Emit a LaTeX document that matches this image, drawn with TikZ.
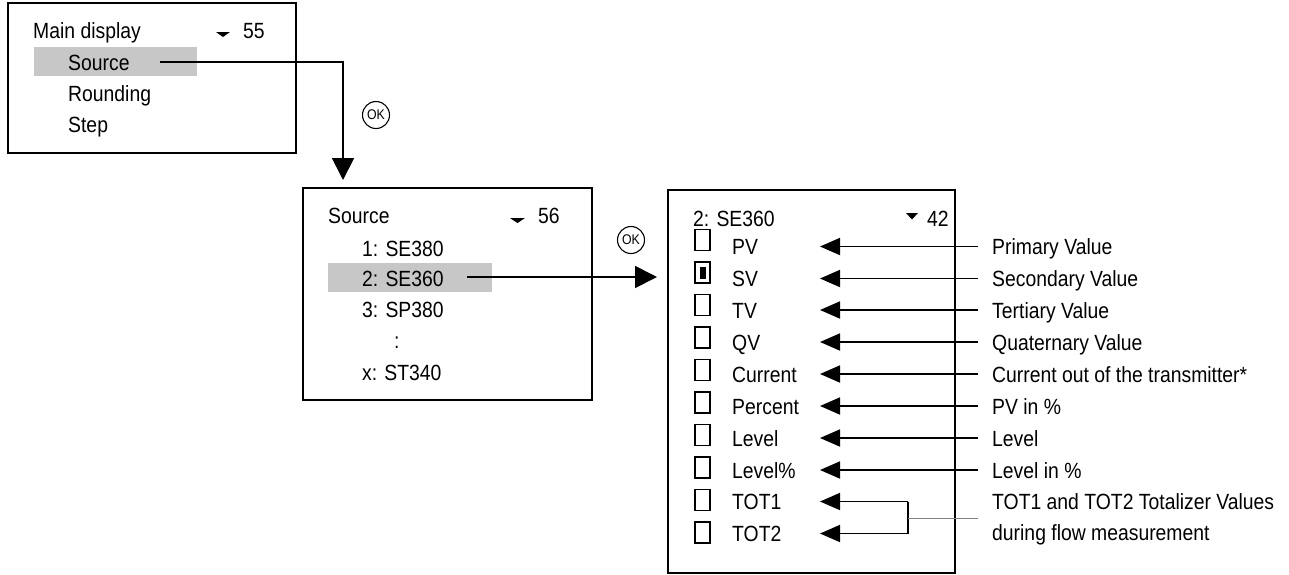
\documentclass[tikz,border=0pt]{standalone}
\usepackage{fontspec}
\setmainfont{Liberation Sans}[FakeStretch=0.88]
\usetikzlibrary{arrows.meta, positioning, calc}

\tikzset{
  menubox/.style={draw, line width=2.4pt, inner sep=0pt},
  txt/.style={anchor=west, inner sep=0pt, text height=16pt, text depth=0pt, font=\fontsize{22}{26}\selectfont},
  hl/.style={fill=black!22, inner sep=0pt},
  chk/.style={draw, line width=1.3pt, minimum width=15pt, minimum height=21pt, inner sep=0pt},
  okbtn/.style={circle, draw, line width=1.1pt, minimum size=27pt, inner sep=0pt, font=\fontsize{14}{14}\selectfont},
  bigarr/.style={line width=1.8pt, -{Triangle[length=22pt, width=22pt]}},
  arr/.style={line width=1.8pt, -{Triangle[length=20pt, width=17pt]}},
  lead/.style={line width=1.8pt}
}

\begin{document}
\begin{tikzpicture}[x=1pt, y=-1pt]
            \useasboundingbox (0,0) rectangle (1289,574);
            % first menu
            \node[menubox, minimum width=288pt, minimum height=150pt] (main) at (152,78) {};
            \node[hl, minimum width=163pt, minimum height=29pt] (hlA) at (115.5,61.5) {};
            \node[txt] (mA) at (33,30.5) {Main display};
            \fill (216,32) -- (230,32) -- (223,37) -- cycle;
            \node[txt] (nA) at (243,30.5) {55};
            \node[txt] (srcA) at (68,62) {Source};
            \node[txt] (rndA) at (68,93) {Rounding};
            \node[txt] (stpA) at (68,124.5) {Step};
            % source menu
            \node[menubox, minimum width=289pt, minimum height=212pt] (src) at (447.5,294) {};
            \node[hl, minimum width=164pt, minimum height=29pt] (hlB) at (410,277.5) {};
            \node[txt] (mB) at (328,215.5) {Source};
            \fill (510,218) -- (525,218) -- (517.5,223) -- cycle;
            \node[txt] (nB) at (538,215.5) {56};
            \node[txt] (s1) at (362,248) {1: SE380};
            \node[txt] (s2) at (362,278) {2: SE360};
            \node[txt] (s3) at (362,309.5) {3: SP380};
            \node[txt] (sd) at (394,340.5) {:};
            \node[txt] (sx) at (362,372) {x: ST340};
            % value menu
            \node[menubox, minimum width=287pt, minimum height=383pt] (sel) at (811.5,381.5) {};
            \node[txt] (mC) at (693,218.5) {2: SE360};
            \fill (906,213) -- (918,213) -- (912,219.5) -- cycle;
            \node[txt] (nC) at (927,218.5) {42};
            \node[chk] (c1) at (702.5,240) {};
            \node[chk] (c2) at (702.5,272.5) {};
            \node[fill, minimum width=6pt, minimum height=12pt, inner sep=0pt] (c2in) at (c2) {};
            \node[chk] (c3) at (702.5,305) {};
            \node[chk] (c4) at (702.5,337.5) {};
            \node[chk] (c5) at (702.5,370) {};
            \node[chk] (c6) at (702.5,402.5) {};
            \node[chk] (c7) at (702.5,435) {};
            \node[chk] (c8) at (702.5,467.5) {};
            \node[chk] (c9) at (702.5,500) {};
            \node[chk] (c10) at (702.5,532.5) {};
            \node[txt] (l1) at (732,246.5) {PV};
            \node[txt] (l2) at (732,278.5) {SV};
            \node[txt] (l3) at (732,310) {TV};
            \node[txt] (l4) at (732,342) {QV};
            \node[txt] (l5) at (732,374) {Current};
            \node[txt] (l6) at (732,406) {Percent};
            \node[txt] (l7) at (732,438) {Level};
            \node[txt] (l8) at (732,470) {Level\%};
            \node[txt] (l9) at (732,501.5) {TOT1};
            \node[txt] (l10) at (732,533.5) {TOT2};
            % explanations
            \node[txt] (d1) at (992,246.5) {Primary Value};
            \node[txt] (d2) at (992,278.5) {Secondary Value};
            \node[txt] (d3) at (992,310) {Tertiary Value};
            \node[txt] (d4) at (992,342) {Quaternary Value};
            \node[txt] (d5) at (992,374) {Current out of the transmitter*};
            \node[txt] (d6) at (992,406) {PV in \%};
            \node[txt] (d7) at (992,438) {Level};
            \node[txt] (d8) at (992,470) {Level in \%};
            \node[txt] (d9) at (992,501.5) {TOT1 and TOT2 Totalizer Values};
            \node[txt] (d10) at (992,532) {during flow measurement};
            % OK buttons
            \node[okbtn] (ok1) at (376,115) {OK};
            \node[okbtn] (ok2) at (631,240) {OK};
            % connectors
            \coordinate (a1) at (160,62);
            \coordinate (a1e) at (343,180);
            \coordinate (a2) at (467,277);
            \coordinate (a2e) at (657,277);
            \coordinate (tipx) at (820,0);
            \coordinate (brk) at (908,518);
            \draw[bigarr] (a1) -| (a1e);
            \draw[bigarr] (a2) -- (a2e);
            \draw[arr] ([xshift=-14pt]d1.west) -- (tipx |- d1.west);
            \draw[arr] ([xshift=-14pt]d2.west) -- (tipx |- d2.west);
            \draw[arr] ([xshift=-14pt]d3.west) -- (tipx |- d3.west);
            \draw[arr] ([xshift=-14pt]d4.west) -- (tipx |- d4.west);
            \draw[arr] ([xshift=-14pt]d5.west) -- (tipx |- d5.west);
            \draw[arr] ([xshift=-14pt]d6.west) -- (tipx |- d6.west);
            \draw[arr] ([xshift=-14pt]d7.west) -- (tipx |- d7.west);
            \draw[arr] ([xshift=-14pt]d8.west) -- (tipx |- d8.west);
            \draw[arr] (brk |- l9.west) -- (tipx |- l9.west);
            \draw[arr] (brk |- l10.west) -- (tipx |- l10.west);
            \draw[lead] (brk |- l9.west) -- (brk |- l10.west);
            \draw[gray, line width=0.9pt] (brk) -- ([xshift=-14pt]d9.west |- brk);
        \end{tikzpicture}
\end{document}
